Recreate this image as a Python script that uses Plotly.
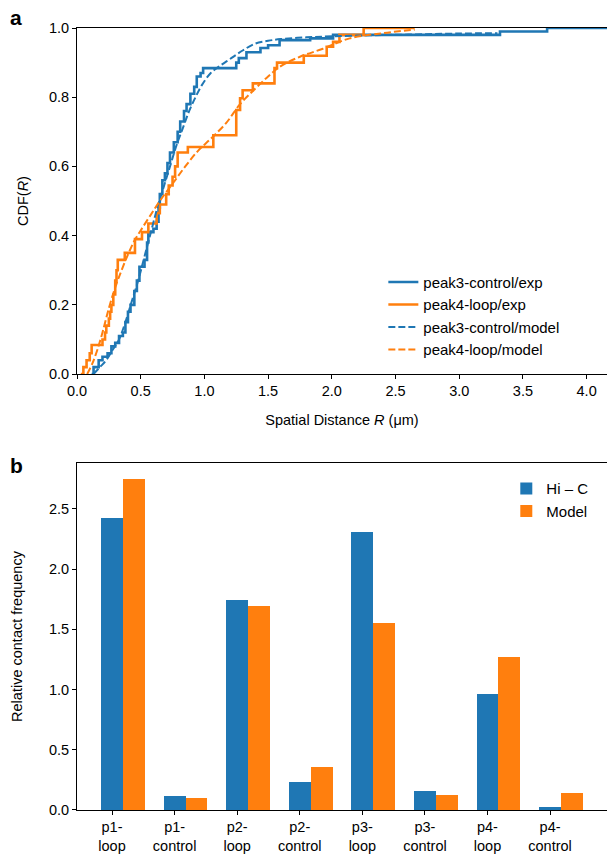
import plotly.graph_objects as go

# ---------------- Panel a data (CDF of spatial distance) ----------------
blue_exp_x = [0.115, 0.13, 0.17, 0.20, 0.24, 0.27, 0.30, 0.33, 0.36, 0.38, 0.40, 0.42, 0.45, 0.47,
              0.49, 0.53, 0.55, 0.56, 0.60, 0.625, 0.64, 0.65, 0.67, 0.69, 0.71, 0.73, 0.76, 0.79,
              0.81, 0.84, 0.86, 0.89, 0.92, 0.94, 0.97, 0.99, 1.25, 1.27, 1.33, 1.44, 1.50, 1.59,
              1.83, 2.01, 3.32, 3.69, 4.2]
blue_exp_y = [0.0, 0.02, 0.04, 0.05, 0.06, 0.08, 0.09, 0.11, 0.12, 0.15, 0.18, 0.20, 0.24, 0.27,
              0.31, 0.33, 0.38, 0.41, 0.42, 0.44, 0.48, 0.52, 0.56, 0.58, 0.61, 0.64, 0.67, 0.70,
              0.73, 0.76, 0.78, 0.81, 0.83, 0.86, 0.87, 0.884, 0.90, 0.913, 0.93, 0.942, 0.95, 0.965,
              0.97, 0.98, 0.99, 1.0, 1.0]

orange_exp_x = [0.03, 0.05, 0.075, 0.10, 0.115, 0.20, 0.22, 0.23, 0.25, 0.26, 0.27, 0.285, 0.30,
                0.31, 0.32, 0.375, 0.455, 0.51, 0.56, 0.625, 0.65, 0.70, 0.72, 0.75, 0.77, 0.79,
                0.87, 1.07, 1.25, 1.28, 1.30, 1.38, 1.55, 1.57, 1.78, 1.96, 2.01, 2.06, 2.25, 2.65]
orange_exp_y = [0.0, 0.02, 0.04, 0.06, 0.084, 0.10, 0.12, 0.14, 0.16, 0.18, 0.20, 0.23, 0.27,
                0.30, 0.33, 0.35, 0.39, 0.41, 0.435, 0.465, 0.49, 0.52, 0.545, 0.57, 0.60, 0.64,
                0.656, 0.69, 0.763, 0.797, 0.82, 0.84, 0.884, 0.90, 0.92, 0.946, 0.96, 0.98, 1.0, 1.0]

blue_model_x = [0.13, 0.18, 0.23, 0.28, 0.33, 0.38, 0.43, 0.48, 0.53, 0.58, 0.63, 0.68, 0.73, 0.78,
                0.83, 0.88, 0.93, 0.98, 1.05, 1.12, 1.2, 1.3, 1.4, 1.5, 1.6, 1.8, 2.0, 2.3, 2.6,
                3.0, 3.3]
blue_model_y = [0.0, 0.02, 0.04, 0.07, 0.10, 0.15, 0.21, 0.27, 0.34, 0.41, 0.48, 0.54, 0.60, 0.66,
                0.71, 0.76, 0.80, 0.835, 0.87, 0.89, 0.91, 0.935, 0.955, 0.963, 0.968, 0.973, 0.976,
                0.979, 0.981, 0.984, 0.985]

orange_model_x = [0.08, 0.12, 0.16, 0.2, 0.25, 0.3, 0.35, 0.4, 0.45, 0.5, 0.57, 0.65, 0.75, 0.85,
                  0.95, 1.05, 1.17, 1.28, 1.4, 1.5, 1.6, 1.75, 1.93, 2.14, 2.4, 2.65]
orange_model_y = [0.0, 0.03, 0.07, 0.12, 0.19, 0.25, 0.30, 0.345, 0.385, 0.415, 0.455, 0.50, 0.55,
                  0.60, 0.645, 0.68, 0.725, 0.78, 0.825, 0.86, 0.89, 0.917, 0.94, 0.97, 0.985, 0.995]

x_ticks_a = [0.0, 0.5, 1.0, 1.5, 2.0, 2.5, 3.0, 3.5, 4.0]
y_ticks_a = [0.0, 0.2, 0.4, 0.6, 0.8, 1.0]

# ---------------- Panel b data (relative contact frequency) ----------------
categories = ["p1-<br>loop", "p1-<br>control", "p2-<br>loop", "p2-<br>control",
              "p3-<br>loop", "p3-<br>control", "p4-<br>loop", "p4-<br>control"]
hic_values = [2.42, 0.119, 1.744, 0.235, 2.311, 0.16, 0.966, 0.028]
model_values = [2.744, 0.102, 1.694, 0.36, 1.555, 0.127, 1.273, 0.144]
y_ticks_b = [0.0, 0.5, 1.0, 1.5, 2.0, 2.5]

BLUE = "#1f77b4"
ORANGE = "#ff7f0e"
FONT = "Liberation Sans, Arial, Helvetica, sans-serif"
FS = 14.5

bar_w = 0.35
idx = list(range(len(categories)))

fig = go.Figure()

fig.add_trace(go.Scatter(x=blue_exp_x, y=blue_exp_y, mode="lines", line_shape="hv",
                         line=dict(color=BLUE, width=2.6), name="peak3-control/exp",
                         xaxis="x", yaxis="y", legend="legend"))
fig.add_trace(go.Scatter(x=orange_exp_x, y=orange_exp_y, mode="lines", line_shape="hv",
                         line=dict(color=ORANGE, width=2.6), name="peak4-loop/exp",
                         xaxis="x", yaxis="y", legend="legend"))
fig.add_trace(go.Scatter(x=blue_model_x, y=blue_model_y, mode="lines", line_shape="spline",
                         line=dict(color=BLUE, width=2, dash="7px,3px"), name="peak3-control/model",
                         xaxis="x", yaxis="y", legend="legend"))
fig.add_trace(go.Scatter(x=orange_model_x, y=orange_model_y, mode="lines", line_shape="spline",
                         line=dict(color=ORANGE, width=2, dash="7px,3px"), name="peak4-loop/model",
                         xaxis="x", yaxis="y", legend="legend"))

fig.add_trace(go.Bar(x=idx, y=hic_values, width=bar_w, marker=dict(color=BLUE, line=dict(width=0)),
                     name="Hi \u2013 C", xaxis="x2", yaxis="y2", legend="legend2"))
fig.add_trace(go.Bar(x=[i + bar_w for i in idx], y=model_values, width=bar_w,
                     marker=dict(color=ORANGE, line=dict(width=0)),
                     name="Model", xaxis="x2", yaxis="y2", legend="legend2"))

axis_common = dict(showline=True, linecolor="black", linewidth=1, ticks="outside", ticklen=4,
                   tickwidth=1, tickcolor="black", showgrid=False, zeroline=False,
                   tickfont=dict(family=FONT, size=FS, color="black"))

fig.update_layout(
    width=607, height=858,
    margin=dict(l=77, r=0, t=28, b=48),
    paper_bgcolor="white", plot_bgcolor="white",
    font=dict(family=FONT, size=FS, color="black"),
    barmode="overlay", bargap=0,
    xaxis=dict(domain=[0, 1], anchor="y", range=[0, 4.16], tickvals=x_ticks_a,
               ticktext=[f"{v:.1f}" for v in x_ticks_a], mirror=True,
               title=dict(text="Spatial Distance <i>R</i> (\u03bcm)", standoff=16,
                          font=dict(family=FONT, size=FS)), **axis_common),
    yaxis=dict(domain=[0.5575, 1], anchor="x", range=[0, 1], tickvals=y_ticks_a,
               ticktext=[f"{v:.1f}" for v in y_ticks_a],
               title=dict(text="CDF(<i>R</i>)", standoff=16, font=dict(family=FONT, size=FS)),
               **axis_common),
    xaxis2=dict(domain=[0, 1], anchor="y2", range=[-0.56, 7.91], tickvals=idx,
                ticktext=categories, mirror=True, **axis_common),
    yaxis2=dict(domain=[0, 0.4437], anchor="x2", range=[0, 2.88], tickvals=y_ticks_b,
                ticktext=[f"{v:.1f}" for v in y_ticks_b],
                title=dict(text="Relative contact frequency", standoff=22,
                           font=dict(family=FONT, size=FS)), **axis_common),
    legend=dict(x=0.578, y=0.696, xanchor="left", yanchor="top", bgcolor="rgba(0,0,0,0)",
                font=dict(family=FONT, size=15, color="black"), itemwidth=30,
                tracegroupgap=0),
    legend2=dict(x=0.81, y=0.432, xanchor="left", yanchor="top", bgcolor="rgba(0,0,0,0)",
                 font=dict(family=FONT, size=15, color="black"), itemwidth=30),
    annotations=[
        dict(text="<b>a</b>", x=-0.115, y=1.013, xref="paper", yref="paper", showarrow=False,
             font=dict(family=FONT, size=21, color="black"), xanchor="center", yanchor="middle"),
        dict(text="<b>b</b>", x=-0.115, y=0.441, xref="paper", yref="paper", showarrow=False,
             font=dict(family=FONT, size=21, color="black"), xanchor="center", yanchor="middle"),
    ],
)

fig.write_html("out.html")
